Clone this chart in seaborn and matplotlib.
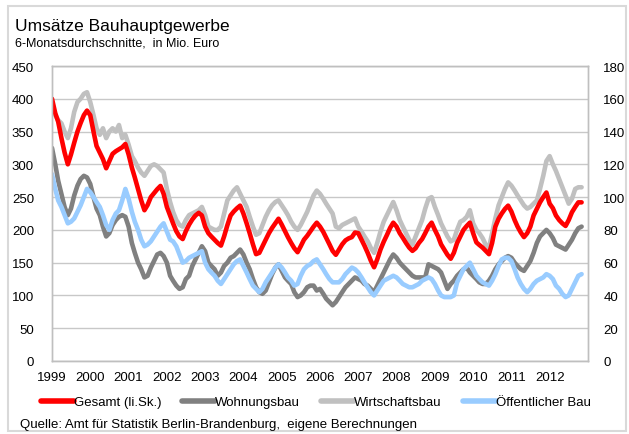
import matplotlib
matplotlib.use("Agg")
import matplotlib.pyplot as plt
import matplotlib.dates as mdates
from matplotlib.lines import Line2D
from matplotlib.patches import Rectangle
import pandas as pd
import seaborn as sns

# Monthly 6-month moving averages, Jan 1999 - Nov 2012
months = pd.date_range("1999-01-01", periods=167, freq="MS")
years = list(range(1999, 2013))

# Gesamt (left scale, Mio. Euro)
gesamt = [
    400, 378, 365, 340, 318, 300, 315, 333, 350, 363, 375, 382,   # 1999
    375, 350, 328, 318, 308, 294, 305, 316, 320, 323, 326, 331,   # 2000
    315, 295, 280, 262, 245, 230, 238, 250, 256, 262, 267, 255,   # 2001
    235, 222, 210, 198, 190, 186, 198, 208, 216, 222, 226, 222,   # 2002
    205, 195, 190, 185, 180, 176, 190, 207, 222, 228, 233, 237,   # 2003
    225, 210, 195, 178, 163, 165, 175, 185, 195, 203, 210, 217,   # 2004
    208, 198, 189, 180, 172, 166, 175, 185, 191, 198, 205, 211,   # 2005
    205, 197, 188, 178, 168, 162, 170, 178, 184, 187, 189, 196,   # 2006
    195, 185, 176, 165, 153, 143, 155, 170, 182, 192, 203, 211,   # 2007
    205, 195, 188, 180, 173, 168, 172, 180, 186, 195, 205, 211,   # 2008
    200, 190, 178, 170, 162, 156, 165, 180, 190, 200, 206, 211,   # 2009
    195, 181, 177, 173, 168, 163, 180, 205, 217, 225, 232, 237,   # 2010
    228, 215, 205, 196, 189, 195, 205, 222, 232, 242, 250, 257,   # 2011
    240, 233, 222, 215, 210, 206, 215, 227, 235, 242, 242,        # 2012
]

# Right scale series (Mio. Euro)
wohnungsbau = [
    130, 120, 110, 102, 94, 89, 93, 101, 107, 111, 113, 112,
    108, 100, 93, 89, 82, 76, 78, 83, 86, 88, 89, 88,
    82, 72, 66, 60, 56, 51, 52, 57, 61, 65, 66, 64,
    60, 52, 49, 46, 44, 45, 50, 52, 58, 62, 66, 70,
    67, 60, 58, 56, 52, 54, 58, 60, 63, 64, 66, 68,
    65, 60, 56, 50, 45, 42, 41, 43, 48, 53, 57, 59,
    55, 51, 49, 47, 42, 39, 40, 42, 45, 46, 46, 43,
    44, 41, 38, 36, 34, 36, 39, 42, 45, 47, 49, 51,
    50, 49, 47, 46, 44, 42, 46, 50, 54, 58, 62, 65,
    63, 60, 58, 56, 54, 52, 51, 51, 51, 51, 59, 58,
    57, 56, 54, 49, 44, 47, 49, 52, 54, 56, 57, 54,
    52, 50, 48, 47, 47, 49, 52, 56, 59, 61, 63, 64,
    63, 60, 58, 56, 55, 58, 61, 66, 72, 76, 78, 80,
    78, 75, 71, 70, 69, 68, 71, 74, 78, 81, 82,
]

wirtschaftsbau = [
    157, 150, 147, 145, 140, 136, 142, 152, 158, 160, 163, 164,
    158, 150, 142, 138, 142, 136, 140, 142, 140, 144, 136, 138,
    132, 125, 122, 118, 115, 113, 116, 119, 120, 119, 117, 115,
    105, 97, 91, 86, 83, 82, 86, 89, 90, 91, 92, 94,
    89, 82, 81, 80, 80, 82, 90, 98, 101, 104, 106, 102,
    98, 94, 88, 82, 77, 78, 83, 88, 92, 95, 97, 98,
    95, 92, 89, 85, 82, 80, 83, 87, 91, 96, 101, 104,
    102, 99, 96, 93, 90, 82, 81, 83, 84, 85, 86, 87,
    82, 79, 76, 73, 69, 66, 72, 79, 85, 89, 93, 97,
    92, 86, 82, 78, 74, 71, 76, 81, 86, 93, 99, 100,
    94, 89, 84, 80, 76, 73, 74, 80, 85, 86, 88, 92,
    84, 80, 78, 75, 71, 69, 78, 87, 95, 100, 105, 109,
    107, 104, 101, 98, 95, 93, 94, 96, 98, 105, 113, 122,
    125, 120, 116, 111, 106, 101, 96, 99, 105, 106, 106,
]

oeffentlicher_bau = [
    114, 105, 98, 94, 89, 84, 85, 87, 91, 95, 100, 105,
    103, 100, 97, 94, 89, 83, 80, 86, 90, 92, 98, 105,
    99, 91, 85, 80, 74, 70, 71, 73, 76, 79, 82, 84,
    79, 74, 73, 70, 65, 60, 61, 63, 64, 65, 66, 67,
    60, 56, 54, 52, 49, 47, 50, 53, 56, 59, 61, 62,
    58, 54, 50, 46, 44, 42, 44, 48, 51, 54, 57, 59,
    57, 54, 51, 49, 46, 47, 52, 56, 58, 59, 61, 62,
    59, 56, 53, 50, 48, 48, 48, 50, 53, 55, 57, 56,
    54, 51, 48, 45, 42, 40, 43, 46, 49, 50, 51, 52,
    51, 49, 47, 46, 45, 45, 46, 47, 49, 50, 51, 50,
    47, 43, 40, 39, 39, 39, 40, 48, 52, 56, 58, 60,
    56, 52, 50, 48, 47, 46, 49, 53, 58, 62, 63, 63,
    61, 56, 51, 47, 44, 42, 44, 47, 49, 50, 51, 53,
    52, 50, 46, 44, 41, 39, 40, 44, 48, 52, 53,
]

labels = ["Gesamt (li.Sk.)", "Wohnungsbau", "Wirtschaftsbau", "Öffentlicher Bau"]
colors = ["#FF0000", "#808080", "#C0C0C0", "#99CCFF"]

df = pd.DataFrame({
    "Monat": months,
    "Gesamt": gesamt,
    "Wohnungsbau": wohnungsbau,
    "Wirtschaftsbau": wirtschaftsbau,
    "Öffentlicher Bau": oeffentlicher_bau,
})

sns.set_style("white")
plt.rcParams["font.family"] = ["Liberation Sans", "DejaVu Sans"]
plt.rcParams["text.color"] = "#000000"

W, H = 629, 435
fig = plt.figure(figsize=(W / 100, H / 100), dpi=100)
ax = fig.add_axes([52 / W, 73 / H, 536 / W, 295 / H])
ax2 = ax.twinx()

line_kw = dict(linewidth=3.3, solid_joinstyle="round", solid_capstyle="round",
               legend=False)
sns.lineplot(data=df, x="Monat", y="Wirtschaftsbau", ax=ax2, color=colors[2], **line_kw)
sns.lineplot(data=df, x="Monat", y="Wohnungsbau", ax=ax2, color=colors[1], **line_kw)
sns.lineplot(data=df, x="Monat", y="Öffentlicher Bau", ax=ax2, color=colors[3], **line_kw)
sns.lineplot(data=df, x="Monat", y="Gesamt", ax=ax, color=colors[0], **line_kw)

# Left scale on top so the total line sits above the others
ax.set_zorder(ax2.get_zorder() + 1)
ax.patch.set_visible(False)

ax.set_ylim(0, 450)
ax.set_yticks(range(0, 451, 50))
ax2.set_ylim(0, 180)
ax2.set_yticks(range(0, 181, 20))
ax.set_xlim(pd.Timestamp("1999-01-01"), pd.Timestamp("2013-01-01"))
ax.set_xticks([pd.Timestamp(f"{y}-01-01") for y in years])
ax.xaxis.set_major_formatter(mdates.DateFormatter("%Y"))

for a in (ax, ax2):
    a.set_xlabel("")
    a.set_ylabel("")
    for s in a.spines.values():
        s.set_color("#BFBFBF")
        s.set_linewidth(1.0)
    a.tick_params(length=0, labelsize=9.5, colors="#000000")

ax.tick_params(axis="y", pad=13)
ax.tick_params(axis="x", pad=7)
ax2.tick_params(axis="y", pad=11, labelsize=9.5)

# Grid drawn on the lower axis so it stays beneath every line
ax2.set_axisbelow(True)
ax2.grid(True, axis="y", color="#C8C8C8", linewidth=1.0)
ax2.grid(True, axis="x", color="#C8C8C8", linewidth=1.0)

fig.text(15 / W, 1 - 30.5 / H, "Umsätze Bauhauptgewerbe", fontsize=12.5,
         va="baseline", ha="left")
fig.text(15 / W, 1 - 46.5 / H, "6-Monatsdurchschnitte,  in Mio. Euro", fontsize=9,
         va="baseline", ha="left")

handles = [Line2D([0], [0], color=c, linewidth=4, solid_capstyle="round") for c in colors]
fig.legend(handles, labels, loc="center", bbox_to_anchor=(0.502, 1 - 403 / H), ncol=4,
           frameon=False, fontsize=9.5, handlelength=2.5, handletextpad=0.0,
           columnspacing=1.6)

fig.text(20 / W, 1 - 425 / H,
         "Quelle: Amt für Statistik Berlin-Brandenburg,  eigene Berechnungen",
         fontsize=9.5, va="center", ha="left")

fig.patches.append(Rectangle((8 / W, 3 / H), (626 - 8) / W, (430 - 5) / H,
                             transform=fig.transFigure, fill=False,
                             edgecolor="#D9D9D9", linewidth=1.5))

fig.savefig("out.png", dpi=100)
